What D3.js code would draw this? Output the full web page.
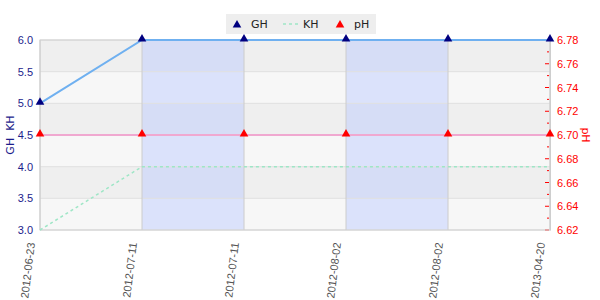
<!DOCTYPE html>
<html>
<head>
<meta charset="utf-8">
<script src="https://cdn.jsdelivr.net/npm/d3@7"></script>
<style>
  body { margin: 0; background: #fff; }
  svg { display: block; font-family: "DejaVu Sans", Verdana, sans-serif; }
</style>
</head>
<body>
<svg id="chart"></svg>
<script>
// data
const dates = ["2012-06-23", "2012-07-11", "2012-07-11", "2012-08-02", "2012-08-02", "2013-04-20"];
const ghValues = [5.0, 6.0, 6.0, 6.0, 6.0, 6.0];
const khValues = [3.0, 4.0, 4.0, 4.0, 4.0, 4.0];
const phValues = [6.70, 6.70, 6.70, 6.70, 6.70, 6.70];
const leftTicks = [3.0, 3.5, 4.0, 4.5, 5.0, 5.5, 6.0];
const rightTicks = [6.62, 6.64, 6.66, 6.68, 6.70, 6.72, 6.74, 6.76, 6.78];
const shadedSpans = [[1, 2], [3, 4]];

const svgWidth = 600;
const svgHeight = 300;
const margin = { top: 40, right: 50, bottom: 70, left: 40 };
const width = svgWidth - margin.left - margin.right;
const height = svgHeight - margin.top - margin.bottom;

const svg = d3.select("#chart")
  .attr("width", svgWidth)
  .attr("height", svgHeight);

const g = svg.append("g")
  .attr("transform", `translate(${margin.left},${margin.top})`);

// scales
const x = d3.scaleLinear().domain([0, dates.length - 1]).range([0, width]);
const y = d3.scaleLinear().domain([3, 6]).range([height, 0]);
const y2 = d3.scaleLinear().domain([6.62, 6.78]).range([height, 0]);

// alternating background bands
for (let i = 0; i < leftTicks.length - 1; i++) {
  g.append("rect")
    .attr("x", 0)
    .attr("y", y(leftTicks[i + 1]))
    .attr("width", width)
    .attr("height", y(leftTicks[i]) - y(leftTicks[i + 1]))
    .attr("fill", i % 2 === 0 ? "#f7f7f7" : "#efefef");
}

// blue shaded spans
shadedSpans.forEach(s => {
  g.append("rect")
    .attr("x", x(s[0]))
    .attr("y", 0)
    .attr("width", x(s[1]) - x(s[0]))
    .attr("height", height)
    .attr("fill", "#b8c8ff")
    .attr("opacity", 0.45);
});

// grid lines
g.selectAll(".hgrid")
  .data(leftTicks)
  .enter().append("line")
  .attr("x1", 0).attr("x2", width)
  .attr("y1", d => y(d)).attr("y2", d => y(d))
  .attr("stroke", "#e0e0e0").attr("stroke-width", 1);

g.selectAll(".vgrid")
  .data(dates.map((d, i) => i))
  .enter().append("line")
  .attr("x1", d => x(d)).attr("x2", d => x(d))
  .attr("y1", 0).attr("y2", height)
  .attr("stroke", "#cccccc").attr("stroke-width", 1);

// left axis
const leftAxis = g.append("g")
  .call(d3.axisLeft(y).tickValues(leftTicks).tickFormat(d3.format(".1f")).tickSize(0).tickPadding(7));
leftAxis.select(".domain").remove();
leftAxis.selectAll("text").attr("fill", "#1c1c8c").style("font-size", "11px");

svg.append("text")
  .attr("transform", `translate(14,${margin.top + height / 2}) rotate(-90)`)
  .attr("text-anchor", "middle")
  .attr("fill", "#1c1c8c")
  .style("font-size", "11px")
  .style("white-space", "pre")
  .text("GH  KH");

// right axis
const rightAxis = g.append("g")
  .attr("transform", `translate(${width},0)`)
  .call(d3.axisRight(y2).tickValues(rightTicks).tickFormat(d3.format(".2f")).tickSize(0).tickPadding(7));
rightAxis.select(".domain").attr("stroke", "#cccccc");
rightAxis.selectAll("text").attr("fill", "red").style("font-size", "11px");

const minorTicks = d3.range(0, 17).map(i => 6.62 + i * 0.01);
g.selectAll(".rtick")
  .data(minorTicks)
  .enter().append("line")
  .attr("x1", (d, i) => width - (i % 2 === 0 ? 5 : 3))
  .attr("x2", width - 1)
  .attr("y1", d => y2(d)).attr("y2", d => y2(d))
  .attr("stroke", "red");

svg.append("text")
  .attr("transform", `translate(582,${margin.top + height / 2}) rotate(90)`)
  .attr("text-anchor", "middle")
  .attr("fill", "red")
  .style("font-size", "11px")
  .text("pH");

// bottom labels
g.selectAll(".xlabel")
  .data(dates)
  .enter().append("text")
  .attr("transform", (d, i) => `translate(${x(i) - 5},${height + 13}) rotate(-83)`)
  .attr("text-anchor", "end")
  .attr("fill", "#555")
  .style("font-family", "'Liberation Sans', Arial, sans-serif")
  .style("font-size", "11px")
  .text(d => d);

// outer border
g.append("rect")
  .attr("width", width).attr("height", height)
  .attr("fill", "none").attr("stroke", "#d0d0d0");

// series
const tri = d3.symbol().type(d3.symbolTriangle).size(32);

const lineGH = d3.line().x((d, i) => x(i)).y(d => y(d));
const lineKH = d3.line().x((d, i) => x(i)).y(d => y(d));
const linePH = d3.line().x((d, i) => x(i)).y(d => y2(d));

g.append("path").datum(khValues)
  .attr("d", lineKH).attr("fill", "none")
  .attr("stroke", "#9ee6c6").attr("stroke-width", 1.5)
  .attr("stroke-dasharray", "3,3");

g.append("path").datum(phValues)
  .attr("d", linePH).attr("fill", "none")
  .attr("stroke", "#f0a8d0").attr("stroke-width", 2);

g.append("path").datum(ghValues)
  .attr("d", lineGH).attr("fill", "none")
  .attr("stroke", "#6fb0f0").attr("stroke-width", 2);

g.selectAll(".ghpt")
  .data(ghValues)
  .enter().append("path")
  .attr("d", tri)
  .attr("transform", (d, i) => `translate(${x(i)},${y(d) - 1})`)
  .attr("fill", "#000080");

g.selectAll(".phpt")
  .data(phValues)
  .enter().append("path")
  .attr("d", tri)
  .attr("transform", (d, i) => `translate(${x(i)},${y2(d) - 1})`)
  .attr("fill", "red");

// legend
const legend = svg.append("g").attr("transform", "translate(226,14)");
legend.append("rect")
  .attr("width", 150).attr("height", 20)
  .attr("fill", "#eeeeee");
legend.append("path").attr("d", tri)
  .attr("transform", "translate(11,11)").attr("fill", "#000080");
legend.append("text").attr("x", 25).attr("y", 14)
  .style("font-size", "11px").attr("fill", "#222").text("GH");
legend.append("line")
  .attr("x1", 57).attr("x2", 72).attr("y1", 10).attr("y2", 10)
  .attr("stroke", "#9ee6c6").attr("stroke-width", 1.5).attr("stroke-dasharray", "3,3");
legend.append("text").attr("x", 77).attr("y", 14)
  .style("font-size", "11px").attr("fill", "#222").text("KH");
legend.append("path").attr("d", tri)
  .attr("transform", "translate(114,11)").attr("fill", "red");
legend.append("text").attr("x", 128).attr("y", 14)
  .style("font-size", "11px").attr("fill", "#222").text("pH");
</script>
</body>
</html>
